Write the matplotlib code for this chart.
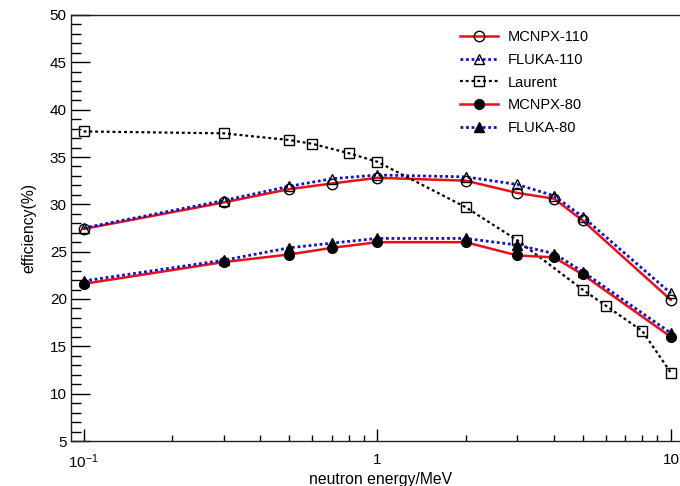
import matplotlib
matplotlib.use("Agg")
import matplotlib.pyplot as plt
from matplotlib.ticker import FixedLocator, FixedFormatter, NullFormatter

plt.rcParams['font.family'] = ['Liberation Sans', 'DejaVu Sans']
plt.rcParams['mathtext.default'] = 'regular'

# energies (MeV)
energy_sim = [0.1, 0.3, 0.5, 0.7, 1, 2, 3, 4, 5, 10]
energy_laurent = [0.1, 0.3, 0.5, 0.6, 0.8, 1, 2, 3, 5, 6, 8, 10]

# efficiencies (%)
mcnpx_110 = [27.4, 30.2, 31.6, 32.2, 32.8, 32.5, 31.2, 30.6, 28.3, 19.9]
fluka_110 = [27.5, 30.4, 31.9, 32.7, 33.1, 32.9, 32.1, 30.9, 28.7, 20.6]
laurent = [37.7, 37.5, 36.8, 36.4, 35.4, 34.5, 29.7, 26.2, 21.0, 19.3, 16.6, 12.2]
mcnpx_80 = [21.6, 23.9, 24.7, 25.4, 26.0, 26.0, 24.6, 24.4, 22.6, 16.0]
fluka_80 = [21.9, 24.1, 25.4, 25.9, 26.4, 26.4, 25.7, 24.8, 22.9, 16.4]

fig = plt.figure(figsize=(6.8, 4.86), dpi=100)
ax = fig.add_axes([71/680, 45/486, (690-71)/680, 426/486])

red = '#e8101a'
blue = '#1010c8'
dots = (0, (1, 1))

ax.plot(energy_sim, mcnpx_110, color=red, lw=1.8, marker='o', ms=7.5,
        mfc='none', mec='black', mew=1.0, label='MCNPX-110')
ax.plot(energy_sim, fluka_110, color=blue, lw=2.0, ls=dots, marker='^', ms=6.5,
        mfc='none', mec='black', mew=1.0, label='FLUKA-110')
ax.plot(energy_laurent, laurent, color='black', lw=1.6, ls=(0, (1.3, 1.3)), marker='s', ms=6.5,
        mfc='none', mec='black', mew=1.0, label='Laurent')
ax.plot(energy_sim, mcnpx_80, color=red, lw=1.8, marker='o', ms=7,
        mfc='black', mec='black', label='MCNPX-80')
ax.plot(energy_sim, fluka_80, color=blue, lw=2.0, ls=dots, marker='^', ms=6.5,
        mfc='black', mec='black', label='FLUKA-80')

ax.set_xscale('log')
ax.set_xlim(10**-1.043, 10**1.065)
ax.set_ylim(5, 50)

ax.xaxis.set_major_locator(FixedLocator([0.1, 1, 10]))
ax.xaxis.set_major_formatter(FixedFormatter(['$10^{-1}$', '1', '10']))
minor_x = [m * d for d in (0.1, 1) for m in range(2, 10)]
ax.xaxis.set_minor_locator(FixedLocator(minor_x))
ax.xaxis.set_minor_formatter(NullFormatter())

ax.set_yticks(range(5, 51, 5))
ax.set_yticks(range(5, 51), minor=True)

ax.tick_params(axis='x', which='major', direction='in', length=9, width=1,
               labelsize=11, pad=8.5, top=False)
ax.tick_params(axis='x', which='minor', direction='in', length=4.5, width=1, top=False)
ax.tick_params(axis='y', which='major', direction='in', length=14, width=1,
               labelsize=11, pad=3, right=False)
ax.tick_params(axis='y', which='minor', direction='in', length=7, width=1, right=False)

for s in ax.spines.values():
    s.set_linewidth(1.0)
    s.set_color('#222222')

ax.set_xlabel('neutron energy/MeV', fontsize=11.3, labelpad=0.5)
ax.set_ylabel('efficiency(%)', fontsize=11.3, labelpad=10)

ax.legend(loc='upper left', bbox_to_anchor=(460/680, 1 - 30/486),
          bbox_transform=fig.transFigure, frameon=False, fontsize=10.5,
          handlelength=2.6, handletextpad=0.7, labelspacing=0.6,
          borderpad=0, borderaxespad=0)

fig.savefig('out.png', dpi=100)
